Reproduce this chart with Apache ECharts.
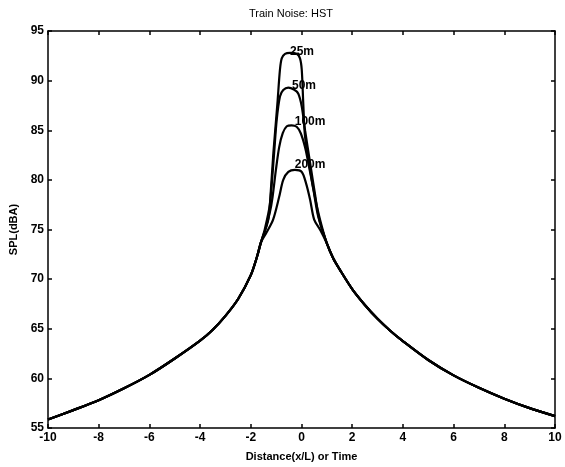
<!DOCTYPE html>
<html>
<head>
<meta charset="utf-8">
<script src="https://cdn.jsdelivr.net/npm/echarts@6/dist/echarts.min.js"></script>
<style>html,body{margin:0;padding:0;background:#fff}#c{width:565px;height:467px}</style>
</head>
<body>
<div id="c"></div>
<script>
// Shared tails (all curves merge away from the peak)
var tailLeftX  = [-10, -9, -8, -7, -6, -5, -4, -3.5, -3, -2.5, -2, -1.75, -1.6];
var tailLeftY  = [55.85, 56.8, 57.8, 59.0, 60.35, 62.0, 63.8, 64.9, 66.3, 68.0, 70.4, 72.3, 73.7];
var tailRightX = [1.0, 1.25, 1.5, 2.0, 2.5, 3.0, 3.5, 4.0, 5.0, 6.0, 7.0, 8.0, 9.0, 10];
var tailRightY = [73.6, 72.1, 71.0, 69.0, 67.4, 66.0, 64.8, 63.75, 61.85, 60.3, 59.05, 57.95, 57.0, 56.2];

// Peak sections per curve
var peak25X  = [-1.31, -1.2, -1.11, -0.95, -0.85, -0.78, -0.65, -0.45, -0.19, -0.06, 0.01, 0.07, 0.14, 0.34, 0.53, 0.73];
var peak25Y  = [76.0, 79.3, 82.7, 87.7, 91.1, 92.25, 92.7, 92.8, 92.7, 92.25, 91.1, 87.7, 84.35, 81.0, 78.3, 76.0];
var peak50X  = [-1.45, -1.25, -1.08, -0.98, -0.85, -0.72, -0.52, -0.30, -0.13, 0.01, 0.14, 0.34, 0.53, 0.7];
var peak50Y  = [75.0, 77.5, 82.7, 86.0, 88.4, 89.05, 89.3, 89.1, 88.7, 87.4, 85.0, 81.7, 78.6, 76.0];
var peak100X = [-1.45, -1.25, -1.14, -1.01, -0.88, -0.74, -0.58, -0.39, -0.19, -0.03, 0.14, 0.27, 0.47, 0.66];
var peak100Y = [74.8, 76.7, 78.3, 81.0, 83.3, 84.7, 85.4, 85.5, 85.35, 84.7, 83.3, 81.7, 79.0, 76.3];
var peak200X = [-1.4, -1.12, -0.88, -0.72, -0.52, -0.26, 0.01, 0.18, 0.34, 0.5, 0.75];
var peak200Y = [74.6, 76.0, 78.3, 80.0, 80.8, 81.0, 80.8, 79.65, 78.0, 76.0, 74.9];

var curveNames = ['25m', '50m', '100m', '200m'];
var labelX = [0.02, 0.1, 0.34, 0.34];
var labelY = [92.9, 89.45, 85.9, 81.5];

var xTicks = [-10, -8, -6, -4, -2, 0, 2, 4, 6, 8, 10];
var yTicks = [55, 60, 65, 70, 75, 80, 85, 90, 95];

function build(px, py) {
  var xs = tailLeftX.concat(px, tailRightX);
  var ys = tailLeftY.concat(py, tailRightY);
  return xs.map(function (x, i) { return [x, ys[i]]; });
}
var peaksX = [peak25X, peak50X, peak100X, peak200X];
var peaksY = [peak25Y, peak50Y, peak100Y, peak200Y];

var FONT = '"Liberation Sans", Arial, sans-serif';
var chart = echarts.init(document.getElementById('c'), null, {renderer: 'canvas'});

var series = curveNames.map(function (n, i) {
  return {
    name: n, type: 'line', data: build(peaksX[i], peaksY[i]),
    showSymbol: false, smooth: 0.3,
    lineStyle: {color: '#000', width: 2.2}, silent: true, z: 3,
    markPoint: {
      symbol: 'circle', symbolSize: 0, silent: true,
      label: {show: true, position: 'inside', formatter: n, color: '#000',
              fontFamily: FONT, fontWeight: 'bold', fontSize: 12},
      data: [{coord: [labelX[i], labelY[i]]}]
    }
  };
});

var baseAxisLine = {show: true, onZero: false, lineStyle: {color: '#000', width: 1.5}};
var tick = {show: true, inside: true, length: 4, lineStyle: {color: '#000', width: 1.5}};
var labStyle = {color: '#000', fontFamily: FONT, fontWeight: 'bold', fontSize: 12};

chart.setOption({
  backgroundColor: '#fff',
  animation: false,
  title: {
    text: 'Train Noise: HST', left: 291, top: 8, padding: 0, textAlign: 'center',
    textStyle: {color: '#000', fontFamily: FONT, fontWeight: 'normal', fontSize: 11}
  },
  grid: {left: 48, right: 10, top: 31, bottom: 39, containLabel: false},
  xAxis: [{
    type: 'value', min: -10, max: 10, interval: 2, position: 'bottom',
    axisLine: baseAxisLine, axisTick: tick, splitLine: {show: false},
    axisLabel: Object.assign({margin: 4, formatter: function (v) { return xTicks.indexOf(v) >= 0 ? String(v) : ''; }}, labStyle),
    name: 'Distance(x/L) or Time', nameLocation: 'middle', nameGap: 23,
    nameTextStyle: {color: '#000', fontFamily: FONT, fontWeight: 'bold', fontSize: 11}
  }, {
    type: 'value', min: -10, max: 10, interval: 2, position: 'top',
    axisLine: baseAxisLine, axisTick: tick, axisLabel: {show: false}, splitLine: {show: false}
  }],
  yAxis: [{
    type: 'value', min: 55, max: 95, interval: 5, position: 'left',
    axisLine: baseAxisLine, axisTick: tick, splitLine: {show: false},
    axisLabel: Object.assign({margin: 4, formatter: function (v) { return yTicks.indexOf(v) >= 0 ? String(v) : ''; }}, labStyle),
    name: 'SPL(dBA)', nameLocation: 'middle', nameGap: 27, nameRotate: 90,
    nameTextStyle: {color: '#000', fontFamily: FONT, fontWeight: 'bold', fontSize: 11}
  }, {
    type: 'value', min: 55, max: 95, interval: 5, position: 'right',
    axisLine: baseAxisLine, axisTick: tick, axisLabel: {show: false}, splitLine: {show: false}
  }],
  series: series
});
</script>
</body>
</html>
